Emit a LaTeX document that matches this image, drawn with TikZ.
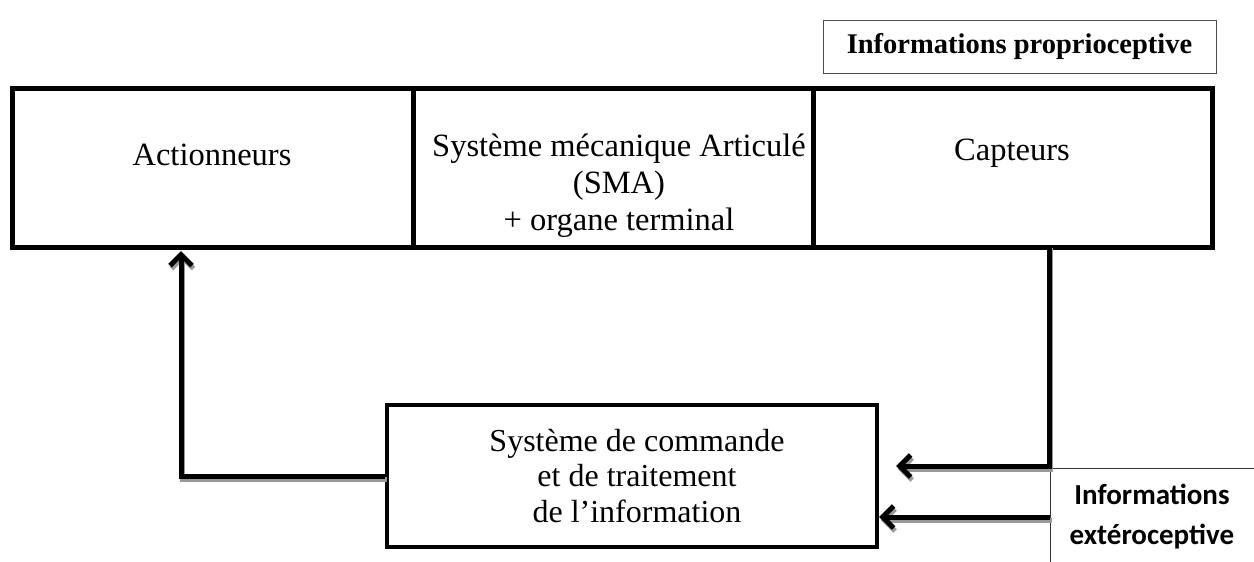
\documentclass[tikz,border=0pt]{standalone}
\usepackage{fontspec}
\setmainfont{Liberation Serif}
\newfontfamily\calfont{Carlito}
\usetikzlibrary{arrows.meta}
\begin{document}
\begin{tikzpicture}[x=1pt,y=-1pt,
  bigbox/.style={draw=black,line width=5pt,rectangle,inner sep=0pt},
  txt/.style={font=\fontsize{32.5}{38}\selectfont,align=center,inner sep=0pt},
  thin/.style={draw=black!80,line width=1pt},
  arr/.style={line width=5pt,-{Straight Barb[length=11pt,width=22pt,line width=5pt]},
    preaction={draw=black!40,line width=5pt,-{Straight Barb[length=11pt,width=22pt,line width=5pt]},
      transform canvas={xshift=1.5pt,yshift=-3pt}}}]
\useasboundingbox (0,0) rectangle (1254,562);
% top boxes
\node[bigbox,minimum width=401pt,minimum height=159pt] (act) at (212.5,167.5) {};
\node[bigbox,minimum width=400pt,minimum height=159pt] (sma) at (613,167.5) {};
\node[bigbox,minimum width=399pt,minimum height=159pt] (cap) at (1012.5,167.5) {};
\node[txt] (tact) at (212,155) {Actionneurs};
\node[txt,font=\fontsize{32.5}{37}\selectfont] (tsma) at (619,186) {Système mécanique Articulé\\(SMA)\\+ organe terminal};
\node[txt] (tcap) at (1012,153) {Capteurs};
% proprioceptive
\node[draw=black!70,line width=1pt,minimum width=393pt,minimum height=53pt,inner sep=0pt,
  font=\fontsize{28.5}{34}\selectfont\bfseries] (prop) at (1019.5,46.5) {Informations proprioceptive};
% command box
\node[draw=black,line width=4pt,minimum width=490pt,minimum height=142pt,inner sep=0pt] (cmd) at (632,476) {};
\node[txt,font=\fontsize{32}{35.5}\selectfont] (tcmd) at (637,476) {Système de commande\\et de traitement\\de l’information};
% exteroceptive
\coordinate (ext0) at (1050,468);
\draw[thin] (1254,468) -- (ext0) -- (1050,562);
\node[font=\calfont\bfseries\fontsize{29}{40}\selectfont,align=center,inner sep=0pt] (ext) at (1152,517) {Informations\\extéroceptive};
% connectors
\coordinate (c1) at (1049,245);
\coordinate (t1) at (896,466);
\draw[arr] (c1) |- (t1);
\coordinate (e2) at (1050,517);
\draw[arr] (e2) -- (cmd.east |- e2);
\coordinate (t3) at (181,251);
\draw[arr] (cmd.west) -| (t3);
\end{tikzpicture}
\end{document}
